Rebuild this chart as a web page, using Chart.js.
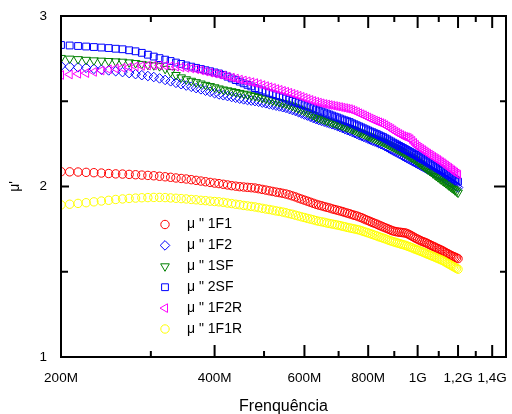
<!DOCTYPE html>
<html>
<head>
<meta charset="utf-8">
<script src="https://cdn.jsdelivr.net/npm/chart.js@4.4.1/dist/chart.umd.min.js"></script>
<style>
  html, body { margin: 0; padding: 0; background: #fff; }
</style>
</head>
<body>
<canvas id="chart" width="512" height="414"></canvas>
<script>
// frequency in MHz
const freqMHz = [
  200,208,216,224,232,240,248,256,264,272,
  280,288,296,304,312,320,328,336,344,352,
  360,368,376,384,392,400,408,416,424,432,
  440,448,456,464,472,480,488,496,504,512,
  520,528,536,544,552,560,568,576,584,592,
  600,608,616,624,632,640,648,656,664,672,
  680,688,696,704,712,720,728,736,744,752,
  760,768,776,784,792,800,808,816,824,832,
  840,848,856,864,872,880,888,896,904,912,
  920,928,936,944,952,960,968,976,984,992,
  1000,1008,1016,1024,1032,1040,1048,1056,1064,1072,
  1080,1088,1096,1104,1112,1120,1128,1136,1144,1152,
  1160,1168,1176,1184,1192,1200
];

const mu1F1 = [
  2.087,2.086,2.085,2.083,2.081,2.079,2.076,2.074,2.073,2.071,
  2.069,2.067,2.065,2.063,2.060,2.057,2.054,2.050,2.047,2.044,
  2.040,2.036,2.032,2.028,2.024,2.020,2.017,2.013,2.009,2.005,
  2.002,1.999,1.997,1.995,1.993,1.991,1.987,1.983,1.979,1.975,
  1.971,1.967,1.964,1.960,1.956,1.951,1.945,1.939,1.932,1.926,
  1.920,1.914,1.908,1.902,1.896,1.891,1.887,1.882,1.878,1.874,
  1.869,1.865,1.861,1.857,1.853,1.848,1.844,1.840,1.835,1.831,
  1.827,1.822,1.817,1.811,1.805,1.800,1.794,1.789,1.784,1.779,
  1.773,1.768,1.763,1.758,1.753,1.748,1.743,1.739,1.736,1.734,
  1.732,1.731,1.729,1.728,1.725,1.720,1.714,1.708,1.702,1.696,
  1.691,1.686,1.681,1.677,1.673,1.669,1.664,1.659,1.654,1.649,
  1.645,1.640,1.636,1.631,1.627,1.622,1.617,1.612,1.607,1.602,
  1.597,1.593,1.589,1.585,1.581,1.577
];

const mu1F2 = [
  2.707,2.703,2.699,2.696,2.690,2.685,2.681,2.676,2.671,2.665,
  2.659,2.653,2.648,2.642,2.634,2.625,2.617,2.608,2.600,2.592,
  2.585,2.577,2.570,2.562,2.555,2.547,2.540,2.535,2.530,2.525,
  2.520,2.515,2.511,2.507,2.504,2.501,2.497,2.492,2.488,2.483,
  2.479,2.474,2.470,2.465,2.461,2.455,2.449,2.443,2.436,2.429,
  2.422,2.416,2.409,2.402,2.396,2.390,2.385,2.380,2.375,2.370,
  2.365,2.360,2.355,2.349,2.343,2.337,2.331,2.326,2.320,2.314,
  2.308,2.302,2.297,2.291,2.286,2.280,2.275,2.269,2.264,2.259,
  2.253,2.248,2.243,2.236,2.230,2.223,2.217,2.210,2.204,2.198,
  2.192,2.186,2.179,2.173,2.167,2.161,2.155,2.150,2.144,2.138,
  2.132,2.127,2.121,2.116,2.111,2.105,2.100,2.095,2.090,2.085,
  2.080,2.075,2.070,2.065,2.060,2.055,2.049,2.042,2.036,2.030,
  2.024,2.018,2.012,2.006,2.000,1.994
];

const mu1SF = [
  2.754,2.750,2.747,2.743,2.740,2.738,2.736,2.734,2.732,2.728,
  2.724,2.719,2.714,2.711,2.706,2.690,2.671,2.654,2.640,2.629,
  2.620,2.612,2.604,2.596,2.589,2.582,2.575,2.569,2.564,2.559,
  2.554,2.549,2.544,2.540,2.535,2.531,2.525,2.520,2.515,2.510,
  2.505,2.500,2.495,2.490,2.486,2.480,2.473,2.465,2.458,2.451,
  2.443,2.435,2.427,2.419,2.410,2.403,2.397,2.392,2.386,2.381,
  2.376,2.371,2.366,2.361,2.357,2.352,2.347,2.343,2.337,2.331,
  2.325,2.319,2.314,2.308,2.303,2.297,2.292,2.286,2.281,2.276,
  2.271,2.266,2.261,2.255,2.249,2.243,2.237,2.231,2.225,2.219,
  2.213,2.208,2.202,2.195,2.188,2.182,2.175,2.169,2.162,2.155,
  2.147,2.139,2.131,2.123,2.115,2.107,2.100,2.092,2.085,2.077,
  2.070,2.062,2.055,2.048,2.041,2.034,2.027,2.020,2.013,2.006,
  1.999,1.992,1.985,1.978,1.971,1.964
];

const mu2SF = [
  2.830,2.827,2.824,2.821,2.818,2.815,2.812,2.808,2.805,2.799,
  2.793,2.784,2.773,2.762,2.753,2.744,2.736,2.727,2.719,2.710,
  2.703,2.696,2.689,2.682,2.676,2.669,2.663,2.655,2.644,2.634,
  2.624,2.615,2.605,2.596,2.587,2.577,2.570,2.563,2.556,2.549,
  2.542,2.535,2.529,2.522,2.516,2.509,2.502,2.496,2.489,2.483,
  2.476,2.470,2.464,2.458,2.451,2.445,2.440,2.434,2.428,2.422,
  2.416,2.410,2.405,2.399,2.393,2.388,2.383,2.378,2.371,2.365,
  2.359,2.353,2.347,2.341,2.335,2.329,2.323,2.318,2.312,2.307,
  2.301,2.295,2.290,2.283,2.277,2.270,2.264,2.257,2.251,2.245,
  2.238,2.232,2.226,2.220,2.214,2.208,2.202,2.196,2.190,2.185,
  2.178,2.172,2.166,2.160,2.154,2.148,2.142,2.136,2.130,2.124,
  2.119,2.113,2.107,2.101,2.096,2.090,2.083,2.077,2.071,2.065,
  2.059,2.053,2.047,2.041,2.035,2.029
];

const mu1F2R = [
  2.654,2.657,2.661,2.665,2.672,2.680,2.687,2.692,2.696,2.700,
  2.704,2.707,2.709,2.710,2.710,2.709,2.706,2.703,2.699,2.696,
  2.692,2.687,2.681,2.674,2.668,2.662,2.657,2.651,2.645,2.639,
  2.633,2.627,2.622,2.617,2.612,2.607,2.601,2.595,2.589,2.583,
  2.578,2.572,2.567,2.561,2.556,2.550,2.544,2.538,2.532,2.526,
  2.520,2.514,2.508,2.502,2.497,2.492,2.488,2.484,2.481,2.478,
  2.475,2.472,2.469,2.466,2.463,2.460,2.457,2.454,2.449,2.443,
  2.437,2.430,2.424,2.418,2.411,2.405,2.399,2.393,2.387,2.382,
  2.377,2.372,2.367,2.360,2.352,2.345,2.338,2.330,2.322,2.315,
  2.308,2.302,2.296,2.292,2.289,2.285,2.278,2.268,2.256,2.245,
  2.235,2.228,2.221,2.214,2.207,2.200,2.193,2.187,2.181,2.174,
  2.168,2.162,2.156,2.149,2.143,2.137,2.130,2.123,2.116,2.110,
  2.103,2.096,2.090,2.083,2.076,2.070
];

const mu1F1R = [
  1.892,1.896,1.901,1.905,1.910,1.915,1.919,1.924,1.927,1.930,
  1.932,1.934,1.935,1.936,1.936,1.935,1.933,1.931,1.929,1.927,
  1.924,1.922,1.919,1.917,1.914,1.912,1.910,1.907,1.903,1.900,
  1.896,1.893,1.889,1.886,1.883,1.880,1.876,1.872,1.868,1.865,
  1.861,1.857,1.854,1.850,1.846,1.841,1.837,1.832,1.827,1.822,
  1.818,1.813,1.809,1.805,1.800,1.796,1.793,1.790,1.786,1.783,
  1.780,1.777,1.774,1.771,1.767,1.764,1.760,1.757,1.754,1.751,
  1.748,1.745,1.741,1.736,1.732,1.728,1.723,1.719,1.714,1.710,
  1.705,1.701,1.697,1.693,1.688,1.684,1.680,1.676,1.673,1.669,
  1.666,1.662,1.659,1.656,1.652,1.648,1.644,1.640,1.635,1.631,
  1.627,1.623,1.619,1.615,1.611,1.606,1.602,1.598,1.594,1.590,
  1.586,1.582,1.578,1.574,1.570,1.566,1.561,1.555,1.550,1.545,
  1.540,1.535,1.530,1.525,1.520,1.515
];

const seriesNames = ["\u03bc \" 1F1", "\u03bc \" 1F2", "\u03bc \" 1SF", "\u03bc \" 2SF", "\u03bc \" 1F2R", "\u03bc \" 1F1R"];
const xMajorTicks = [200, 400, 600, 800, 1000, 1200, 1400];
const xTickLabels = ["200M", "400M", "600M", "800M", "1G", "1,2G", "1,4G"];
const xMinorTicks = [300, 500, 700, 900, 1100, 1300];
const yMajorTicks = [1, 2, 3];
const yMinorTicks = [1.5, 2.5];

const FONT = "'Liberation Sans', Arial, sans-serif";

const styles = [
  { color: "#ff0000", pointStyle: "circle", rotation: 0, radius: 4.2 },
  { color: "#0000ff", pointStyle: "rectRot", rotation: 0, radius: 4.8 },
  { color: "#008000", pointStyle: "triangle", rotation: 180, radius: 5 },
  { color: "#0000ff", pointStyle: "rect", rotation: 0, radius: 4.8 },
  { color: "#ff00ff", pointStyle: "triangle", rotation: -90, radius: 5 },
  { color: "#ffff00", pointStyle: "circle", rotation: 0, radius: 4.2 },
];

const allSeries = [mu1F1, mu1F2, mu1SF, mu2SF, mu1F2R, mu1F1R];

const datasets = allSeries.map((vals, i) => ({
  label: seriesNames[i],
  data: freqMHz.map((f, j) => ({ x: f, y: vals[j] })),
  showLine: false,
  pointStyle: styles[i].pointStyle,
  pointRotation: styles[i].rotation,
  pointRadius: styles[i].radius,
  pointBorderWidth: 1,
  borderColor: styles[i].color,
  pointBorderColor: styles[i].color,
  backgroundColor: "rgba(0,0,0,0)",
  pointBackgroundColor: "rgba(0,0,0,0)",
  clip: 0,
  order: allSeries.length - i,
}));

// frame with inward ticks on all four sides
const frameTicks = {
  id: "frameTicks",
  afterDatasetsDraw(chart) {
    const { ctx, chartArea: a, scales } = chart;
    const xs = scales.x, ys = scales.y;
    ctx.save();
    ctx.strokeStyle = "#000";
    ctx.lineWidth = 2;
    ctx.beginPath();
    const seg = (x1, y1, x2, y2) => { ctx.moveTo(x1, y1); ctx.lineTo(x2, y2); };
    xMajorTicks.forEach((v) => {
      const p = xs.getPixelForValue(v);
      seg(p, a.bottom, p, a.bottom - 12);
      seg(p, a.top, p, a.top + 12);
    });
    xMinorTicks.forEach((v) => {
      const p = xs.getPixelForValue(v);
      seg(p, a.bottom, p, a.bottom - 6);
      seg(p, a.top, p, a.top + 6);
    });
    yMajorTicks.forEach((v) => {
      const p = ys.getPixelForValue(v);
      seg(a.left, p, a.left + 8, p);
      seg(a.right, p, a.right - 12, p);
    });
    yMinorTicks.forEach((v) => {
      const p = ys.getPixelForValue(v);
      seg(a.left, p, a.left + 7, p);
      seg(a.right, p, a.right - 6, p);
    });
    ctx.stroke();
    ctx.strokeRect(a.left, a.top, a.right - a.left, a.bottom - a.top);
    ctx.restore();
  },
};

// legend drawn inside the plot area
const innerLegend = {
  id: "innerLegend",
  afterDraw(chart) {
    const { ctx } = chart;
    const mx = 165, tx = 187, y0 = 224.5, gap = 20.9;
    ctx.save();
    chart.data.datasets.forEach((ds, i) => {
      const cy = y0 + i * gap;
      ctx.strokeStyle = ds.pointBorderColor;
      ctx.fillStyle = "#fff";
      ctx.lineWidth = 1;
      Chart.helpers.drawPoint(ctx, {
        pointStyle: ds.pointStyle,
        rotation: ds.pointRotation,
        radius: ds.pointRadius,
        borderWidth: 1,
      }, mx, cy);
      ctx.fillStyle = "#000";
      ctx.font = "14px " + FONT;
      ctx.textBaseline = "middle";
      ctx.textAlign = "left";
      ctx.fillText(ds.label, tx, cy);
    });
    ctx.restore();
  },
};

new Chart(document.getElementById("chart"), {
  type: "scatter",
  data: { datasets },
  options: {
    responsive: false,
    animation: false,
    layout: { padding: { left: 0, top: 16, right: 1, bottom: 0 } },
    plugins: { legend: { display: false }, tooltip: { enabled: false } },
    scales: {
      x: {
        type: "logarithmic",
        min: 200,
        max: 1490,
        grid: { display: false, drawTicks: false },
        border: { display: false },
        afterBuildTicks: (scale) => {
          scale.ticks = xMajorTicks.map((v) => ({ value: v }));
        },
        afterFit: (scale) => {
          scale.height = 57;
          scale.paddingLeft = 0;
          scale.paddingRight = 0;
        },
        ticks: {
          autoSkip: false,
          maxRotation: 0,
          padding: 13,
          color: "#000",
          font: { family: FONT, size: 13.5 },
          callback: (value, index) => xTickLabels[index],
        },
        title: {
          display: true,
          text: "Frenquência",
          color: "#000",
          font: { family: FONT, size: 16 },
          padding: { top: 0, bottom: -2 },
        },
      },
      y: {
        type: "linear",
        min: 1,
        max: 3,
        grid: { display: false, drawTicks: false },
        border: { display: false },
        afterBuildTicks: (scale) => {
          scale.ticks = yMajorTicks.map((v) => ({ value: v }));
        },
        afterFit: (scale) => {
          scale.width = 61;
          scale.paddingTop = 0;
          scale.paddingBottom = 0;
        },
        ticks: {
          padding: 14,
          color: "#000",
          font: { family: FONT, size: 13.5 },
          callback: (value) => String(value),
        },
        title: {
          display: true,
          text: "\u03bc'",
          color: "#000",
          font: { family: FONT, size: 14 },
          padding: { top: 7, bottom: 0 },
        },
      },
    },
  },
  plugins: [frameTicks, innerLegend],
});
</script>
</body>
</html>
